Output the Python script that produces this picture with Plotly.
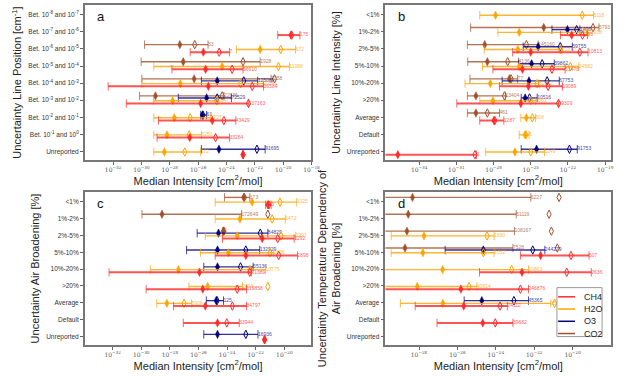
import plotly.graph_objects as go
from plotly.subplots import make_subplots

# rows of each panel, top to bottom
rows_a = ["Bet. 10<sup>-8</sup> and 10<sup>-7</sup>", "Bet. 10<sup>-7</sup> and 10<sup>-6</sup>",
          "Bet. 10<sup>-6</sup> and 10<sup>-5</sup>", "Bet. 10<sup>-5</sup> and 10<sup>-4</sup>",
          "Bet. 10<sup>-4</sup> and 10<sup>-3</sup>", "Bet. 10<sup>-3</sup> and 10<sup>-2</sup>",
          "Bet. 10<sup>-2</sup> and 10<sup>-1</sup>", "Bet. 10<sup>-1</sup> and 10<sup>0</sup>",
          "Unreported"]
rows_pct = ["<1%", "1%-2%", "2%-5%", "5%-10%", "10%-20%", ">20%", "Average", "Default", "Unreported"]

# each entry: (low, median, mean, high, count) as log10 of intensity, None = no data
a_CH4 = [None, (-20.38, -19.45, -19.40, -18.82, 175), (-26.56, -25.63, -24.51, -23.79, 7),
         (-27.85, -25.47, -23.60, -22.83, 56610), (-32.35, -25.28, -22.18, -21.38, 36584),
         (-31.07, -25.82, -22.45, -22.43, 137163), (-28.80, -25.00, -24.18, -23.34, 43429),
         (-28.90, -26.59, -24.77, -23.79, 33264), (-22.83, -22.83, -22.83, -22.83, 1)]
a_H2O = [None, None, (-23.30, -21.62, -20.17, -19.12, 672), (-29.13, -24.30, -20.33, -19.56, 11998),
         (-29.97, -27.26, -23.00, -21.40, 20141), (-29.15, -27.80, -24.70, -24.60, 9347),
         (-29.13, -27.68, -26.56, -25.12, 1727), (-29.13, -28.20, -26.63, -25.77, 6251),
         (-29.13, -28.38, -26.94, -25.82, 572)]
a_O3 = [None, None, None, None, (-25.77, -24.65, -22.78, -21.80, 125089),
        (-27.40, -25.40, -24.65, -23.65, 72529), (-25.82, -25.70, -25.66, -25.40, 61),
        None, (-25.77, -24.53, -21.85, -21.27, 91695)]
a_CO2 = [None, None, (-29.78, -27.29, -26.24, -25.30, 33), (-30.02, -27.05, -22.83, -21.62, 1928),
         (-29.97, -26.28, -20.61, -20.85, 2258), (-30.13, -29.01, -24.30, -24.18, 22636),
         None, None, None]

b_CH4 = [None, (-22.60, -21.70, -20.83, -20.43, 95), (-26.46, -25.00, -21.04, -20.38, 10813),
         (-28.05, -25.67, -23.29, -22.23, 51478), (-27.52, -25.19, -23.60, -22.44, 19089),
         (-30.96, -25.80, -22.76, -22.76, 99309), (-29.11, -27.97, -27.90, -27.17, 1287),
         None, (-38.00, -35.72, -29.50, -29.37, 3)]
b_H2O = [(-29.11, -27.84, -20.85, -19.93, 5118), (-27.65, -25.93, -20.64, -20.38, 23918),
         (-28.76, -26.04, -22.60, -22.49, 21370), (-28.89, -25.93, -21.80, -21.12, 24582),
         (-30.30, -28.26, -24.50, -24.34, 32032), (-29.11, -28.05, -25.00, -24.60, 8561),
         (-25.80, -25.35, -24.87, -24.61, 508), (-25.93, -25.45, -25.40, -25.14, 6),
         (-28.63, -26.28, -25.00, -23.89, 1249)]
b_O3 = [None, (-23.29, -22.04, -21.30, -21.04, 1496), (-25.61, -24.40, -22.62, -21.65, 59755),
        (-25.98, -24.93, -24.08, -23.10, 39862), (-27.31, -25.14, -23.68, -22.70, 67753),
        (-25.77, -25.45, -25.10, -24.48, 10516), None, None, (-25.77, -24.53, -21.88, -21.25, 91753)]
b_CO2 = [None, (-29.85, -23.95, -19.98, -19.50, 5793), (-30.11, -28.71, -25.35, -24.40, 145160),
         (-30.08, -28.50, -26.86, -25.98, 4136), (-29.90, -26.72, -26.59, -26.06, 77),
         (-30.11, -29.42, -27.12, -27.04, 13404), (-30.11, -29.42, -28.50, -27.52, 461),
         None, None]

c_CH4 = [(-21.31, -21.15, -21.08, -20.92, 3), None, (-24.32, -21.54, -20.46, -19.31, 1292),
         (-24.83, -22.69, -20.39, -19.08, 2898), (-32.25, -25.93, -22.41, -22.30, 61389),
         (-29.66, -25.70, -23.29, -22.64, 119858), (-27.75, -25.52, -23.63, -22.64, 84797),
         (-27.06, -24.67, -24.02, -23.15, 33944), (-21.38, -21.38, -21.38, -21.38, 1)]
c_H2O = [(-24.83, -22.25, -20.30, -19.13, 1025), (-24.83, -23.10, -20.85, -19.93, 1472),
         (-25.52, -23.29, -20.23, -19.20, 2997), (-25.86, -23.91, -21.00, -20.74, 2826),
         (-29.36, -27.40, -22.40, -21.31, 10775), (-26.67, -25.36, -21.15, -22.92, 2816),
         (-28.92, -28.21, -27.01, -26.48, 5908), None, None]
c_O3 = [None, None, (-26.09, -24.60, -21.68, -21.15, 84829), (-26.83, -24.67, -22.69, -21.72, 132929),
        (-25.63, -24.67, -23.06, -22.18, 55136), None, (-25.45, -24.76, -24.70, -24.25, 125),
        None, (-25.63, -24.67, -22.69, -21.84, 16936)]
c_CO2 = [(-24.18, -22.83, -22.80, -22.41, 173), (-29.95, -28.55, -21.15, -22.99, 172649),
         (-24.30, -24.25, -24.25, -24.20, 2), None, None, None, None, None, None]

d_CH4 = [None, None, None, (-22.72, -21.67, -20.09, -19.15, 507), (-24.85, -22.64, -20.31, -19.03, 2636),
         (-31.00, -25.82, -22.72, -22.30, 246876), (-28.20, -25.67, -23.78, -23.40, 24112),
         (-27.06, -24.68, -24.03, -23.11, 39682), None]
d_H2O = [None, None, (-29.45, -27.74, -24.46, -24.09, 1690), (-29.45, -27.80, -24.65, -24.09, 1052),
         (-31.00, -26.77, -23.18, -22.30, 10863), (-31.00, -28.09, -25.40, -24.99, 40814),
         (-28.97, -26.76, -20.94, -21.14, 3541), None, None]
d_O3 = [None, None, None, (-26.64, -24.65, -22.08, -21.45, 244279), None, None,
        (-25.65, -24.73, -23.06, -22.30, 45365), None, None]
d_CO2 = [(-31.00, -28.34, -20.71, -22.18, 6227), (-31.00, -28.56, -21.23, -22.94, 51119),
         (-31.00, -28.63, -21.11, -23.03, 108167), (-31.00, -28.73, -20.80, -23.11, 7528),
         None, None, None, None, None]

species = ["CH4", "H2O", "O3", "CO2"]

panels = [
    (1, 1, rows_a, {"CH4": a_CH4, "H2O": a_H2O, "O3": a_O3, "CO2": a_CO2}),
    (1, 2, rows_pct, {"CH4": b_CH4, "H2O": b_H2O, "O3": b_O3, "CO2": b_CO2}),
    (2, 1, rows_pct, {"CH4": c_CH4, "H2O": c_H2O, "O3": c_O3, "CO2": c_CO2}),
    (2, 2, rows_pct, {"CH4": d_CH4, "H2O": d_H2O, "O3": d_O3, "CO2": d_CO2}),
]

colors = {"CH4": "#ff2a2a", "H2O": "#ffa500", "O3": "#00007f", "CO2": "#a0522d"}
offset = {"CO2": 0.25, "O3": 0.13, "H2O": -0.03, "CH4": -0.19}

fig = make_subplots(rows=2, cols=2)

for r, c, rows, data in panels:
    for sp in ["CO2", "O3", "H2O", "CH4"]:
        xs, ys, cx, cy, mx, my, ax, ay, tx, ty, tt = [], [], [], [], [], [], [], [], [], [], []
        for i, v in enumerate(data[sp]):
            if v is None:
                continue
            lo, med, mean, hi, n = v
            y = len(rows) - 1 - i + offset[sp]
            xs += [10 ** lo, 10 ** hi, None]
            ys += [y, y, None]
            cx += [10 ** lo, 10 ** hi]
            cy += [y, y]
            mx.append(10 ** med); my.append(y)
            ax.append(10 ** mean); ay.append(y)
            tx.append(10 ** hi); ty.append(y); tt.append(str(n))
        col = colors[sp]
        lw = 2 if sp == "CH4" else 1.4
        fig.add_trace(go.Scatter(x=xs, y=ys, mode="lines", line=dict(color=col, width=lw),
                                 opacity=0.8, name=sp, showlegend=False), row=r, col=c)
        fig.add_trace(go.Scatter(x=cx, y=cy, mode="markers", showlegend=False, opacity=0.7,
                                 marker=dict(symbol="line-ns", size=6, line=dict(color=col, width=1))),
                      row=r, col=c)
        fig.add_trace(go.Scatter(x=ax, y=ay, mode="markers", showlegend=False,
                                 marker=dict(symbol="diamond-tall-open", size=6, color=col,
                                             line=dict(color=col, width=1))),
                      row=r, col=c)
        fig.add_trace(go.Scatter(x=mx, y=my, mode="markers", showlegend=False,
                                 marker=dict(symbol="diamond-tall", size=6, color=col,
                                             line=dict(color=col, width=0.5))),
                      row=r, col=c)
        fig.add_trace(go.Scatter(x=tx, y=ty, mode="text", text=tt, textposition="middle right",
                                 showlegend=False, opacity=0.75,
                                 textfont=dict(size=5, color=col, family="Liberation Sans")),
                      row=r, col=c)

W, H = 628, 377
dom_x = {1: [86 / W, 316 / W], 2: [391 / W, 620 / W]}
dom_y = {1: [1 - 160 / H, 1 - 5 / H], 2: [1 - 345 / H, 1 - 192 / H]}
ranges = {(1, 1): [-34, -18], (1, 2): [-36.72, -18.52], (2, 1): [-33.95, -18.1], (2, 2): [-29.75, -18.0]}
ticks = {(1, 1): list(range(-32, -17, 2)), (1, 2): list(range(-34, -18, 3)),
         (2, 1): list(range(-32, -19, 2)), (2, 2): list(range(-28, -19, 2))}
ytitles = {(1, 1): "Uncertainty Line Position [cm<sup>-1</sup>]",
           (1, 2): "Uncertainty Line Intensity [%]",
           (2, 1): "Uncertainty Air Broadening [%]",
           (2, 2): "Uncertainty Temperature Dependency of<br>Air Broadening [%]"}
letters = {(1, 1): "a", (1, 2): "b", (2, 1): "c", (2, 2): "d"}

for r, c, rows, data in panels:
    tv = ticks[(r, c)]
    k = (r - 1) * 2 + c
    sfx = "" if k == 1 else str(k)
    fig.update_xaxes(type="log", range=ranges[(r, c)], domain=dom_x[c],
                     tickvals=[10 ** t for t in tv],
                     ticktext=["10<sup>\u2212%d</sup>" % (-t) for t in tv],
                     tickfont=dict(family="DejaVu Serif", size=6, color="#555"),
                     ticks="outside", ticklen=3, tickcolor="#666",
                     showgrid=False, zeroline=False, showline=True, mirror=True,
                     linecolor="#777", linewidth=1.5,
                     title=dict(text="Median Intensity [cm<sup>2</sup>/mol]", standoff=3,
                                font=dict(family="Liberation Sans", size=11, color="#222")),
                     row=r, col=c)
    fig.update_yaxes(range=[-0.5, 8.57], domain=dom_y[r],
                     tickvals=list(range(len(rows) - 1, -1, -1)), ticktext=rows,
                     tickfont=dict(family="Liberation Sans", size=6.5, color="#333"),
                     ticks="outside", ticklen=3, tickcolor="#666",
                     showgrid=False, zeroline=False, showline=True, mirror=True,
                     linecolor="#777", linewidth=1.5,
                     title=dict(text=ytitles[(r, c)], standoff=4,
                                font=dict(family="Liberation Sans", size=11, color="#222")),
                     row=r, col=c)
    fig.add_annotation(text=letters[(r, c)], x=0.045, y=0.985, xanchor="left", yanchor="top",
                       showarrow=False, font=dict(family="Liberation Sans", size=13, color="#111"),
                       xref="x%s domain" % sfx, yref="y%s domain" % sfx)

# legend box inside panel d
lx0, ly0 = 0.765, 0.315
fig.add_shape(type="rect", xref="x4 domain", yref="y4 domain", x0=0.76, x1=0.96, y0=0.055, y1=0.375,
              line=dict(color="#999", width=1), fillcolor="white", layer="above")
for j, sp in enumerate(species):
    yy = ly0 - j * 0.08
    fig.add_shape(type="line", xref="x4 domain", yref="y4 domain", x0=lx0, x1=lx0 + 0.075,
                  y0=yy, y1=yy, line=dict(color=colors[sp], width=1.5), layer="above")
    fig.add_annotation(text=sp, xref="x4 domain", yref="y4 domain", x=lx0 + 0.105, y=yy,
                       xanchor="left", yanchor="middle", showarrow=False,
                       font=dict(family="Liberation Sans", size=9, color="#222"))

fig.update_layout(width=W, height=H, margin=dict(l=0, r=0, t=0, b=0),
                  plot_bgcolor="white", paper_bgcolor="white", showlegend=False)

fig.write_html("out.html", config={"displayModeBar": False},
               post_script="document.body.style.margin='0px';")
